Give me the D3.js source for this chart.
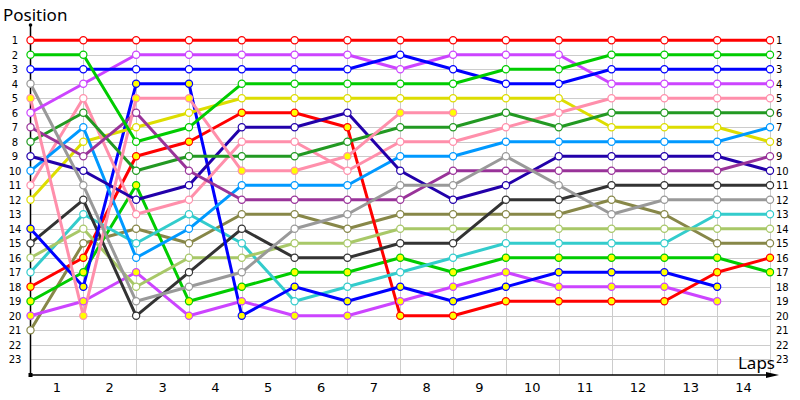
<!DOCTYPE html>
<html>
<head>
<meta charset="utf-8">
<script src="https://cdn.jsdelivr.net/npm/d3@7"></script>
<style>
  body { margin: 0; background: #fff; }
  svg { display: block; }
  .tick-label { font-family: "DejaVu Sans", sans-serif; font-size: 10px; fill: #000; }
  .lap-label { font-family: "DejaVu Sans", sans-serif; font-size: 13px; fill: #000; }
  .title { font-family: "Noto Sans", sans-serif; font-size: 17px; fill: #000; }
</style>
</head>
<body>
<svg id="chart" width="800" height="400"></svg>
<script>
// Lap labels along the bottom, position ticks on both sides
var laps = [1, 2, 3, 4, 5, 6, 7, 8, 9, 10, 11, 12, 13, 14];
var positions = d3.range(1, 24);

// Position of each driver at start (col 0) and after each lap
var redA    = [1, 1, 1, 1, 1, 1, 1, 1, 1, 1, 1, 1, 1, 1, 1];
var greenA  = [2, 2, 8, 7, 4, 4, 4, 4, 4, 3, 3, 2, 2, 2, 2];
var blueA   = [3, 3, 3, 3, 3, 3, 3, 2, 3, 4, 4, 3, 3, 3, 3];
var violetA = [6, 4, 2, 2, 2, 2, 2, 3, 2, 2, 2, 4, 4, 4, 4];
var grayA   = [4, 11, 19, 18, 17, 14, 13, 11, 11, 9, 11, 13, 12, 12, 12];
var pinkB   = [5, 20, 5, 5, 10, 10, 9, 6, 6];
var pinkA   = [11, 5, 13, 12, 8, 8, 10, 8, 8, 7, 6, 5, 5, 5, 5];
var purpleA = [7, 9, 6, 10, 12, 12, 12, 12, 10, 10, 10, 10, 10, 10, 9];
var dgreenA = [8, 6, 10, 9, 9, 9, 8, 7, 7, 6, 7, 6, 6, 6, 6];
var navyA   = [9, 10, 12, 11, 7, 7, 6, 10, 12, 11, 9, 9, 9, 9, 10];
var lblueA  = [10, 7, 16, 14, 11, 11, 11, 9, 9, 8, 8, 8, 8, 8, 7];
var yellowA = [12, 8, 7, 6, 5, 5, 5, 5, 5, 5, 5, 7, 7, 7, 8];
var blueB   = [14, 18, 4, 4, 20, 18, 19, 18, 19, 18, 17, 17, 17, 18];
var dgrayA  = [15, 12, 20, 17, 14, 16, 16, 15, 15, 12, 12, 11, 11, 11, 11];
var ygreenA = [16, 14, 18, 16, 16, 15, 15, 14, 14, 14, 14, 14, 14, 14, 14];
var cyanA   = [17, 13, 15, 13, 15, 19, 18, 17, 16, 15, 15, 15, 15, 13, 13];
var redB    = [18, 16, 9, 8, 6, 6, 7, 20, 20, 19, 19, 19, 19, 17, 16];
var greenB  = [19, 17, 11, 19, 18, 17, 17, 16, 17, 16, 16, 16, 16, 16, 17];
var violetB = [20, 19, 17, 20, 19, 20, 20, 19, 18, 17, 18, 18, 18, 19];
var oliveA  = [21, 15, 14, 15, 13, 13, 14, 13, 13, 13, 13, 12, 13, 15, 15];

// second driver of each team gets the yellow markers
var drivers = [oliveA, violetB, greenB, redB, cyanA, ygreenA, dgrayA, blueB, yellowA,
    pinkA, lblueA, navyA, dgreenA, purpleA, pinkB, grayA, violetA, blueA, greenA, redA];
var colors = ['#878748', '#cc44ff', '#00cc00', '#ff0000', '#33cccc', '#a8c868', '#333333', '#0000ff', '#dddd00',
    '#ff8fab', '#0099ff', '#2200aa', '#229922', '#993399', '#ff8fab', '#999999', '#cc44ff', '#0000ff', '#00cc00', '#ff0000'];
var yellowFill = [false, true, true, true, false, false, false, true, false,
    false, false, false, false, false, true, false, false, false, false, false];

var svg = d3.select('#chart');

var x = d3.scaleLinear().domain([0, laps.length]).range([30.5, 770]);
var y = d3.scaleLinear().domain([1, 23]).range([40.3, 359.3]);
var axisY = 375;

//Grid
var grid = svg.append('g').attr('stroke', '#cccccc').attr('stroke-width', 1);
grid.selectAll('.h').data(positions).enter().append('line')
    .attr('x1', x(0)).attr('x2', x(laps.length))
    .attr('y1', function(d) { return Math.round(y(d)) + 0.5; })
    .attr('y2', function(d) { return Math.round(y(d)) + 0.5; });
grid.selectAll('.v').data(d3.range(1, laps.length + 1)).enter().append('line')
    .attr('x1', function(d) { return Math.round(x(d)) + 0.5; })
    .attr('x2', function(d) { return Math.round(x(d)) + 0.5; })
    .attr('y1', y(1)).attr('y2', axisY);

//Axes
svg.append('line').attr('x1', x(0)).attr('x2', x(0)).attr('y1', 25).attr('y2', axisY)
    .attr('stroke', '#000').attr('stroke-width', 1.5);
svg.append('circle').attr('cx', x(0)).attr('cy', 25).attr('r', 1.8).attr('fill', '#000');
svg.append('line').attr('x1', x(0)).attr('x2', 772).attr('y1', axisY).attr('y2', axisY)
    .attr('stroke', '#000').attr('stroke-width', 1.5);
svg.append('rect').attr('x', x(0) - 2).attr('y', axisY - 2).attr('width', 4).attr('height', 4).attr('fill', '#000');
svg.append('path').attr('d', 'M766,372 L779,375 L766,378 Z').attr('fill', '#000');

//Position labels left and right
svg.selectAll('.ly').data(positions).enter().append('text')
    .attr('class', 'tick-label')
    .attr('x', 15).attr('y', function(d) { return y(d) + 4; })
    .attr('text-anchor', 'middle')
    .text(function(d) { return d; });
svg.selectAll('.ry').data(positions).enter().append('text')
    .attr('class', 'tick-label')
    .attr('x', 776).attr('y', function(d) { return y(d) + 4; })
    .text(function(d) { return d; });

//Lap labels sit between the columns
svg.selectAll('.lap').data(laps).enter().append('text')
    .attr('class', 'lap-label')
    .attr('x', function(d) { return x(d - 0.5); })
    .attr('y', 392)
    .attr('text-anchor', 'middle')
    .text(function(d) { return d; });

svg.append('text').attr('class', 'title').attr('x', 3).attr('y', 21).text('Position');
svg.append('text').attr('class', 'title').attr('x', 775).attr('y', 369).attr('text-anchor', 'end').text('Laps');

//Lines then markers
var line = d3.line()
    .x(function(d, i) { return x(i); })
    .y(function(d) { return y(d); });

svg.append('g').selectAll('path').data(drivers).enter().append('path')
    .attr('d', line)
    .attr('fill', 'none')
    .attr('stroke', function(d, i) { return colors[i]; })
    .attr('stroke-width', 3)
    .attr('stroke-linejoin', 'round');

drivers.forEach(function(series, k) {
    svg.append('g').selectAll('circle').data(series).enter().append('circle')
        .attr('cx', function(d, i) { return x(i); })
        .attr('cy', function(d) { return y(d); })
        .attr('r', 3.6)
        .attr('fill', yellowFill[k] ? '#ffff00' : '#ffffff')
        .attr('stroke', colors[k])
        .attr('stroke-width', 1.2);
});
</script>
</body>
</html>
